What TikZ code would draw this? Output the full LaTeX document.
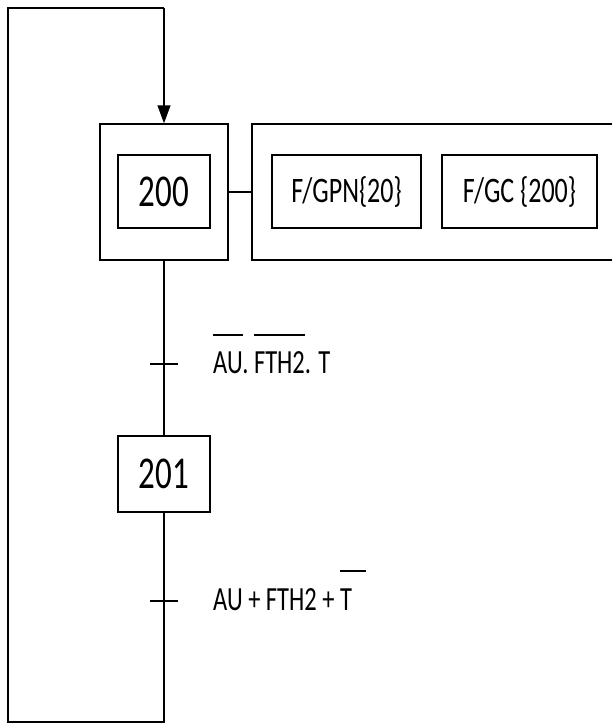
\documentclass[tikz,border=0pt]{standalone}
\usepackage{fontspec}
\setmainfont{Carlito}
\usetikzlibrary{arrows.meta}
\newcommand\tallt[1]{\scalebox{1}[1.38]{#1}}
\newcommand\ovl[2][1.1em]{\setbox0\hbox{#2}\rlap{\raisebox{#1}{\rule{\wd0}{1.3pt}}}#2}
\tikzset{
  ln/.style={line width=1.5pt, black},
  stepbox/.style={ln, draw, rectangle, inner sep=0pt, font=\fontsize{33}{36}\selectfont},
  actbox/.style={ln, draw, rectangle, inner sep=0pt, font=\fontsize{26}{28}\selectfont},
  lbl/.style={inner sep=0pt, anchor=base west, font=\fontsize{24.5}{28}\selectfont},
}
\begin{document}
\begin{tikzpicture}[x=1pt,y=-1pt]
\useasboundingbox (0,0) rectangle (612,724);
\clip (0,0) rectangle (612,724);
% step 200
\node[ln, draw, rectangle, minimum width=128pt, minimum height=136pt, inner sep=0pt] (s200o) at (164,192) {};
\node[stepbox, minimum width=92pt, minimum height=73pt] (s200) at (164,191.5) {\tallt{200}};
% action block
\node[ln, draw, rectangle, minimum width=400pt, minimum height=136pt, inner sep=0pt, anchor=west] (act) at (251,192) {};
\node[actbox, minimum width=149pt, minimum height=73pt] (a1) at (346.5,191.5) {\tallt{F/GPN\{20\}}};
\node[actbox, minimum width=155pt, minimum height=73pt] (a2) at (519.5,191.5) {\tallt{F/GC \{200\}}};
\draw[ln] (s200o.east) -- (act.west);
% step 201
\node[stepbox, minimum width=92pt, minimum height=76pt] (s201) at (164,474) {\tallt{201}};
% transitions
\coordinate (t1) at (164,364);
\coordinate (t2) at (164,601);
\draw[ln] (s200o.south) -- (s201.north);
\draw[ln] (t1) ++(-14,0) -- ++(28,0);
\draw[ln] (t2) ++(-14,0) -- ++(28,0);
\node[lbl] (l1) at (213,373) {\tallt{\ovl{AU}. \ovl{FTH2}. T}};
\node[lbl] (l2) at (213,610) {\tallt{AU + FTH2 + \ovl[1.12em]{T\kern0.55em}}};
% loop back
\coordinate (bot) at (164,722);
\coordinate (bl) at (8,722);
\coordinate (tl) at (8,8);
\coordinate (tr) at (164,8);
\draw[ln] (s201.south) -- (bot) -- (bl) -- (tl) -- (tr);
\draw[ln, -{Triangle[width=13pt,length=18pt]}] (tr) -- (s200o.north);
\end{tikzpicture}
\end{document}
